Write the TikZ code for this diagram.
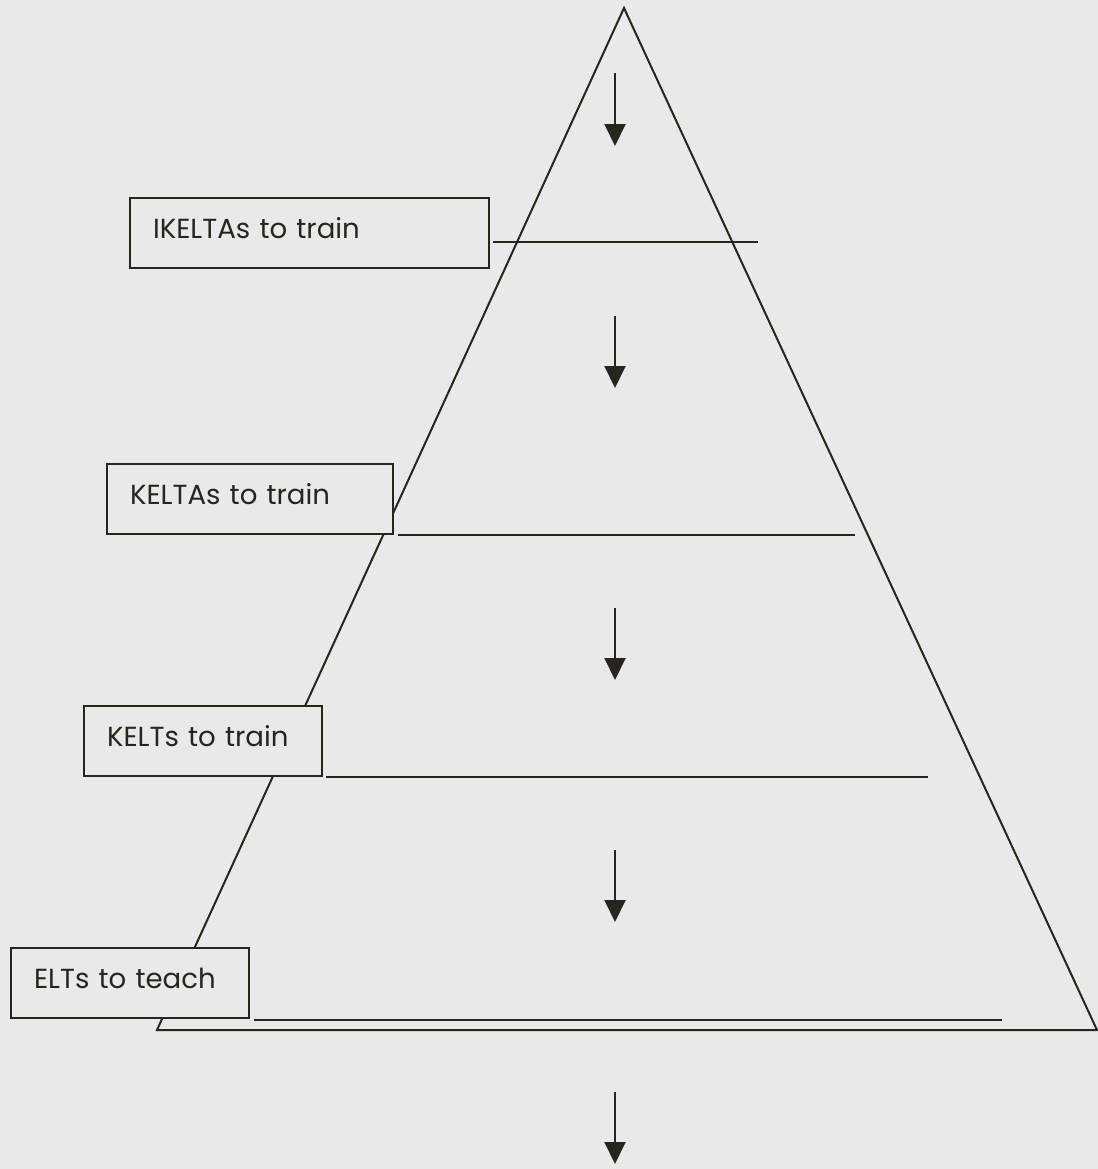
\documentclass[tikz,border=0pt]{standalone}
\usepackage{fontspec}
\setmainfont{Poppins}
\usetikzlibrary{arrows.meta, positioning}
\definecolor{paper}{HTML}{E9E9EA}
\definecolor{ink}{HTML}{26261F}

\begin{document}
\begin{tikzpicture}[
    x=0.5pt, y=-0.5pt,
    font=\fontsize{13.8}{16}\selectfont,
    line width=1pt,
    line/.style={draw=ink},
    level/.style={
      draw=ink, fill=paper, text=ink,
      anchor=north west, inner sep=0pt,
      text width=#1, align=left,
      minimum height=35pt, text depth=5pt
    },
    arr/.style={-{Triangle[width=10.5pt, length=11pt]}, draw=ink, fill=ink}
  ]
  \fill[paper] (0,0) rectangle (1098,1169);
  \useasboundingbox (0,0) rectangle (1098,1169);

  % pyramid
  \coordinate (apex) at (624,8);
  \coordinate (bl) at (157,1030);
  \coordinate (br) at (1097,1030);
  \draw[line] (bl) -- (apex) -- (br) -- cycle;

  % level lines
  \draw[line] (493,242) -- (758,242);
  \draw[line] (398,535) -- (855,535);
  \draw[line] (326,777) -- (928,777);
  \draw[line] (254,1020) -- (1002,1020);

  % labels
  \node[level=179.5pt] (ikelta) at (129,197) {\hspace{11.5pt}IKELTAs to train};
  \node[level=143pt]   (kelta)  at (106,463) {\hspace{11.5pt}KELTAs to train};
  \node[level=119pt]   (kelt)   at (83,705)  {\hspace{11.5pt}KELTs to train};
  \node[level=119pt]   (elt)    at (10,947)  {\hspace{11.5pt}ELTs to teach};

  % arrows down the pyramid
  \foreach \i/\ya/\yb in {1/73/146, 2/316/388, 3/608/680, 4/850/922, 5/1092/1164} {
    \coordinate (s\i) at (615,\ya);
    \coordinate (t\i) at (615,\yb);
    \draw[arr] (s\i) -- (t\i);
  }
\end{tikzpicture}
\end{document}
